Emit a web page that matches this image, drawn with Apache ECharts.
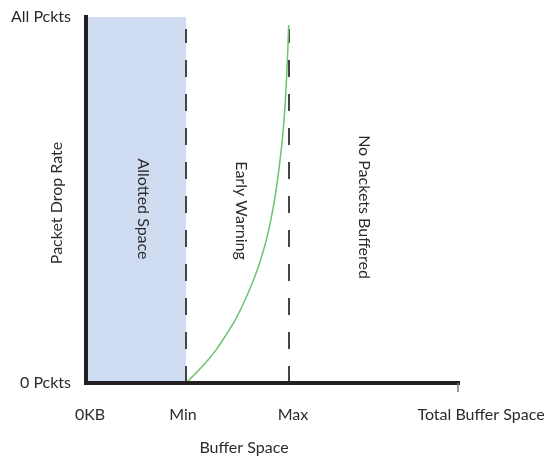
<!DOCTYPE html>
<html>
<head>
<meta charset="utf-8">
<script src="https://cdn.jsdelivr.net/npm/echarts@6/dist/echarts.min.js"></script>
<style>html,body{margin:0;padding:0;background:#fff}#c{width:546px;height:458px}</style>
</head>
<body>
<div id="c"></div>
<script>
// Buffer positions (arbitrary buffer units, 0KB .. Total Buffer Space)
const xTickValues = [0, 100, 203, 372];
const xTickLabels = ['0KB', 'Min', 'Max', 'Total Buffer Space'];
const yTickValues = [0, 1];
const yTickLabels = ['0 Pckts', 'All Pckts'];
const minThreshold = 100;
const maxThreshold = 203;
const thresholdTop = 0.967;
// Early-warning drop-probability curve
const curveX = [100, 111, 122, 131, 139, 148, 156, 164, 172, 179, 185, 189, 193, 196.5, 199, 200.7, 201.8, 202.5, 202.7];
const curveY = [0, 0.030, 0.063, 0.094, 0.127, 0.166, 0.209, 0.258, 0.315, 0.377, 0.448, 0.508, 0.585, 0.670, 0.755, 0.840, 0.910, 0.960, 0.978];
const regionLabels = ['Allotted Space', 'Early Warning', 'No Packets Buffered'];
const axisNames = ['Buffer Space', 'Packet Drop Rate'];

const FONT = 'Lato';
const TXT = '#2b2b2b';
const chart = echarts.init(document.getElementById('c'), null, {renderer: 'canvas'});

const labelShift = {'0KB': [0,0,0,8], 'Min': [0,6,0,0], 'Max': [0,0,0,8], 'Total Buffer Space': [0,0,0,46]};
const rich = {};
xTickLabels.forEach((t, i) => { rich['l' + i] = {fontFamily: FONT, fontSize: 16, color: TXT, padding: labelShift[t]}; });

const vText = (text, x, y, rot) => ({
  type: 'text', x: x, y: y, rotation: rot, z: 100,
  style: {text: text, font: '16px ' + FONT, fill: TXT, textAlign: 'center', textVerticalAlign: 'middle'}
});

chart.setOption({
  animation: false,
  backgroundColor: '#fff',
  grid: {left: 86, right: 88, top: 17, bottom: 75, containLabel: false, outerBoundsMode: 'none'},
  xAxis: {
    type: 'value', min: 0, max: 372, z: 10,
    splitLine: {show: false},
    axisLine: {show: true, lineStyle: {color: '#231f20', width: 4, cap: 'square'}},
    axisTick: {show: true, customValues: [372], length: 9, lineStyle: {color: '#777', width: 1.5}},
    axisLabel: {
      customValues: xTickValues, margin: 24,
      formatter: v => { const i = xTickValues.indexOf(v); return '{l' + i + '|' + xTickLabels[i] + '}'; },
      rich: rich
    }
  },
  yAxis: {
    type: 'value', min: 0, max: 1, z: 10,
    splitLine: {show: false},
    axisLine: {show: true, lineStyle: {color: '#231f20', width: 4, cap: 'square'}},
    axisTick: {show: false},
    axisLabel: {
      customValues: yTickValues, margin: 15,
      fontFamily: FONT, fontSize: 16, color: TXT,
      formatter: v => yTickLabels[yTickValues.indexOf(v)]
    }
  },
  series: [
    {
      type: 'line', data: curveX.map((x, i) => [x, curveY[i]]),
      smooth: 0.2, showSymbol: false, z: 3,
      lineStyle: {color: '#6cc46c', width: 1.5},
      markArea: {silent: true, itemStyle: {color: '#cfdcf2'}, data: [[{xAxis: 0}, {xAxis: minThreshold}]]}
    },
    {
      type: 'line', data: [[minThreshold, 0], [minThreshold, thresholdTop]],
      showSymbol: false, z: 2,
      lineStyle: {color: '#454545', width: 2, type: [17, 17]}
    },
    {
      type: 'line', data: [[maxThreshold, 0], [maxThreshold, thresholdTop]],
      showSymbol: false, z: 2,
      lineStyle: {color: '#454545', width: 2, type: [17, 17]}
    }
  ],
  graphic: [
    vText(axisNames[1], 57, 203, Math.PI / 2),
    vText(regionLabels[0], 143.5, 209, -Math.PI / 2),
    vText(regionLabels[1], 241, 210.5, -Math.PI / 2),
    vText(regionLabels[2], 364, 207, -Math.PI / 2),
    vText(axisNames[0], 244, 448, 0)
  ]
});
</script>
</body>
</html>
